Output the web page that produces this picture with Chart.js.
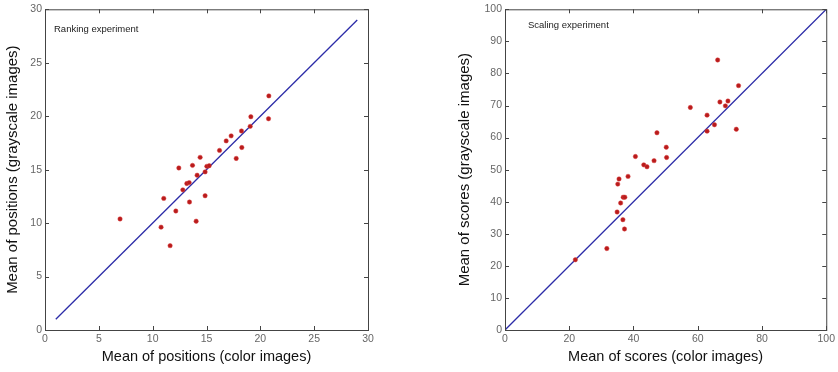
<!DOCTYPE html>
<html><head><meta charset="utf-8">
<script src="https://cdn.jsdelivr.net/npm/chart.js@4"></script>
<style>
html,body{margin:0;padding:0;background:#fff;}
body{width:838px;height:372px;position:relative;overflow:hidden;}
.c{position:absolute;top:0;height:372px;}
</style></head><body>
<div class="c" style="left:0;width:420px"><canvas id="c1"></canvas></div>
<div class="c" style="left:452px;width:386px"><canvas id="c2"></canvas></div>
<script>
// Ranking experiment (left)
const rankColor = [6.97,10.78,11.62,11.03,12.15,12.43,12.80,13.17,13.39,13.42,13.70,14.04,14.13,14.41,14.87,14.87,15.03,15.25,16.21,16.83,17.29,17.76,18.25,18.28,19.06,19.12,20.76,20.79];
const rankGray  = [10.39,9.62,7.89,12.31,11.13,15.16,13.11,13.70,13.79,11.97,15.40,10.18,14.48,16.15,14.79,12.56,15.31,15.37,16.80,17.69,18.16,16.05,18.62,17.07,19.05,19.95,19.76,21.90];
const rankLine  = [1, 29];
const rankTicks = [0,5,10,15,20,25,30];
// Scaling experiment (right)
const scaleColor = [21.9,31.7,34.9,35.1,35.5,36.0,36.8,37.3,36.7,37.2,38.3,40.6,43.2,44.2,46.4,47.3,50.2,50.3,57.7,62.9,62.9,65.2,66.2,66.9,68.6,69.4,72.0,72.7];
const scaleGray  = [21.9,25.4,36.8,45.5,47.1,39.6,41.4,41.4,34.4,31.5,47.9,54.1,51.5,50.9,52.8,61.5,57.0,53.8,69.4,67.0,62.0,64.0,84.2,71.1,69.9,71.4,62.6,76.2];
const scaleLine  = [0, 100];
const scaleXTicks = [0,20,40,60,80,100];
const scaleYTicks = [0,10,20,30,40,50,60,70,80,90,100];

const FONT = '"Liberation Sans", Arial, sans-serif';

const boxPlugin = {
  id:'box',
  afterDraw(chart){
    const {ctx, chartArea:a, scales} = chart;
    ctx.save();
    ctx.strokeStyle = '#444'; ctx.lineWidth = 1;
    ctx.strokeRect(a.left+0.5, a.top+0.5, a.right-a.left, a.bottom-a.top);
    const L = 4;
    ctx.beginPath();
    scales.x.ticks.forEach(t=>{
      const px = Math.round(scales.x.getPixelForValue(t.value))+0.5;
      ctx.moveTo(px,a.bottom); ctx.lineTo(px,a.bottom-L);
      ctx.moveTo(px,a.top); ctx.lineTo(px,a.top+L);
    });
    scales.y.ticks.forEach(t=>{
      const py = Math.round(scales.y.getPixelForValue(t.value))+0.5;
      ctx.moveTo(a.left,py); ctx.lineTo(a.left+L,py);
      ctx.moveTo(a.right,py); ctx.lineTo(a.right-L,py);
    });
    ctx.stroke();
    const txt = chart.options.plugins.note;
    ctx.fillStyle = '#222';
    ctx.font = '9.5px ' + FONT;
    ctx.textBaseline = 'middle';
    ctx.fillText(txt.text, a.left + txt.dx, a.top + txt.dy);
    ctx.restore();
  }
};

function makeChart(id, xs, ys, line, xTicks, yTicks, max, xTitle, yTitle, yWidth, padRight, note){
  const pts = xs.map((x,i)=>({x:x, y:ys[i]}));
  return new Chart(document.getElementById(id), {
    type:'scatter',
    data:{datasets:[
      {data:pts, backgroundColor:'#b81c1c', borderColor:'rgba(220,60,60,0.6)', borderWidth:0.8, pointRadius:2.2, order:0},
      {data:line.map(v=>({x:v,y:v})), showLine:true, borderColor:'#2c2ca8', borderWidth:1.3, pointRadius:0, order:1}
    ]},
    plugins:[boxPlugin],
    options:{
      responsive:true, maintainAspectRatio:false, animation:false,
      layout:{padding:{top:7,right:padRight,left:0,bottom:0}, autoPadding:false},
      plugins:{legend:{display:false}, tooltip:{enabled:false}, note:note},
      scales:{
        x:{type:'linear', min:0, max:max,
          afterBuildTicks(s){ s.ticks = xTicks.map(v=>({value:v})); },
          afterFit(s){ s.height = 42; },
          grid:{display:false, drawTicks:false}, border:{display:false},
          ticks:{color:'#666', padding:3, maxRotation:0, font:{size:10.5, family:FONT}},
          title:{display:true, text:xTitle, color:'#111', padding:{top:0,bottom:6}, font:{size:14.5, family:FONT}}
        },
        y:{type:'linear', min:0, max:max,
          afterBuildTicks(s){ s.ticks = yTicks.map(v=>({value:v})); },
          afterFit(s){ s.width = yWidth; },
          grid:{display:false, drawTicks:false}, border:{display:false},
          ticks:{color:'#666', padding:3, font:{size:10.5, family:FONT}},
          title:{display:true, text:yTitle, color:'#111', padding:{top:4,bottom:0}, font:{size:15, family:FONT}}
        }
      }
    }
  });
}

makeChart('c1', rankColor, rankGray, rankLine, rankTicks, rankTicks, 30,
  'Mean of positions (color images)', 'Mean of positions (grayscale images)', 45, 52,
  {text:'Ranking experiment', dx:9, dy:20});
makeChart('c2', scaleColor, scaleGray, scaleLine, scaleXTicks, scaleYTicks, 100,
  'Mean of scores (color images)', 'Mean of scores (grayscale images)', 53, 9,
  {text:'Scaling experiment', dx:23, dy:16});
</script>
</body></html>
